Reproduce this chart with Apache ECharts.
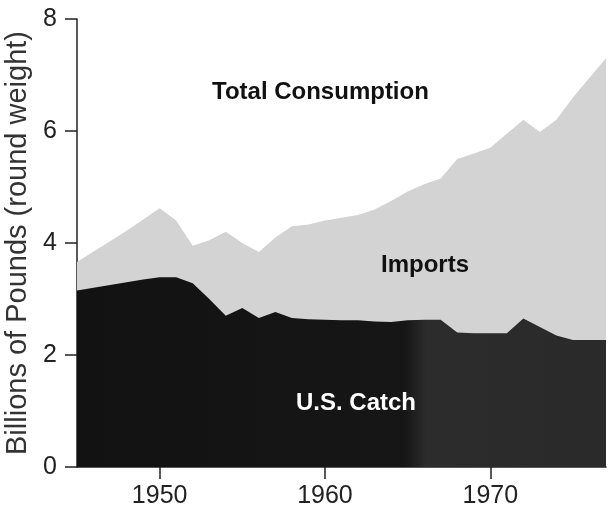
<!DOCTYPE html>
<html>
<head>
<meta charset="utf-8">
<script src="https://cdn.jsdelivr.net/npm/echarts@6/dist/echarts.min.js"></script>
<style>html,body{margin:0;padding:0;background:#fff;}#c{width:611px;height:509px;}</style>
</head>
<body>
<div id="c"></div>
<script>
const years = [1945,1946,1947,1948,1949,1950,1951,1952,1953,1954,1955,1956,1957,1958,1959,1960,1961,1962,1963,1964,1965,1966,1967,1968,1969,1970,1971,1972,1973,1974,1975,1976,1977];
const totalConsumption = [3.66,3.85,4.03,4.22,4.42,4.62,4.4,3.95,4.05,4.2,4.0,3.84,4.1,4.3,4.33,4.4,4.45,4.5,4.6,4.75,4.92,5.05,5.15,5.5,5.6,5.7,5.95,6.2,5.98,6.2,6.6,6.95,7.3];
const usCatch = [3.15,3.2,3.25,3.3,3.35,3.39,3.39,3.28,3.0,2.7,2.84,2.66,2.77,2.66,2.64,2.63,2.62,2.62,2.6,2.59,2.62,2.63,2.63,2.4,2.39,2.39,2.39,2.65,2.5,2.35,2.27,2.27,2.27];
const yTicks = [0,2,4,6,8];
const xTickLabels = [1950,1960,1970];

const chart = echarts.init(document.getElementById('c'), null, {renderer:'canvas'});
const font = 'Liberation Sans, Arial, Helvetica, sans-serif';
chart.setOption({
  animation:false,
  backgroundColor:'#fff',
  grid:{left:77,right:5,top:19,bottom:42,outerBoundsMode:'none'},
  xAxis:{
    type:'value', min:1945, max:1977, interval:5,
    axisLine:{show:true,lineStyle:{color:'#222',width:1.5}},
    axisTick:{show:true,length:12,customValues:xTickLabels,lineStyle:{color:'#222',width:1.5}},
    axisLabel:{customValues:xTickLabels,color:'#222',fontSize:25,fontFamily:font,margin:17,formatter:v=>String(v)},
    splitLine:{show:false}
  },
  yAxis:{
    type:'value', min:0, max:8, interval:2,
    name:'Billions of Pounds (round weight)', nameLocation:'middle', nameGap:36,
    nameTextStyle:{color:'#333',fontSize:29,fontFamily:font},
    axisLine:{show:true,lineStyle:{color:'#222',width:1.5}},
    axisTick:{show:true,length:12,lineStyle:{color:'#222',width:1.5}},
    axisLabel:{color:'#222',fontSize:25,fontFamily:font,margin:20,formatter:v=>yTicks.includes(v)?String(v):''},
    splitLine:{show:false}
  },
  series:[
    {name:'Total Consumption',type:'line',data:years.map((y,i)=>[y,totalConsumption[i]]),
     symbol:'none',lineStyle:{width:0},areaStyle:{color:'#d3d3d3',opacity:1},z:2},
    {name:'U.S. Catch',type:'line',data:years.map((y,i)=>[y,usCatch[i]]),
     symbol:'none',lineStyle:{width:0},
     areaStyle:{opacity:1,color:new echarts.graphic.LinearGradient(0,0,1,0,[
       {offset:0,color:'#121212'},{offset:0.62,color:'#161616'},{offset:0.66,color:'#2c2c2c'},{offset:1,color:'#2a2a2a'}])},z:3}
  ],
  graphic:[
    {type:'text',z:100,left:212,top:80,style:{text:'Total Consumption',font:'bold 24px '+font,fill:'#111'}},
    {type:'text',z:100,left:381,top:253,style:{text:'Imports',font:'bold 24px '+font,fill:'#111'}},
    {type:'text',z:100,left:296,top:391,style:{text:'U.S. Catch',font:'bold 24px '+font,fill:'#fff'}}
  ]
});
</script>
</body>
</html>
